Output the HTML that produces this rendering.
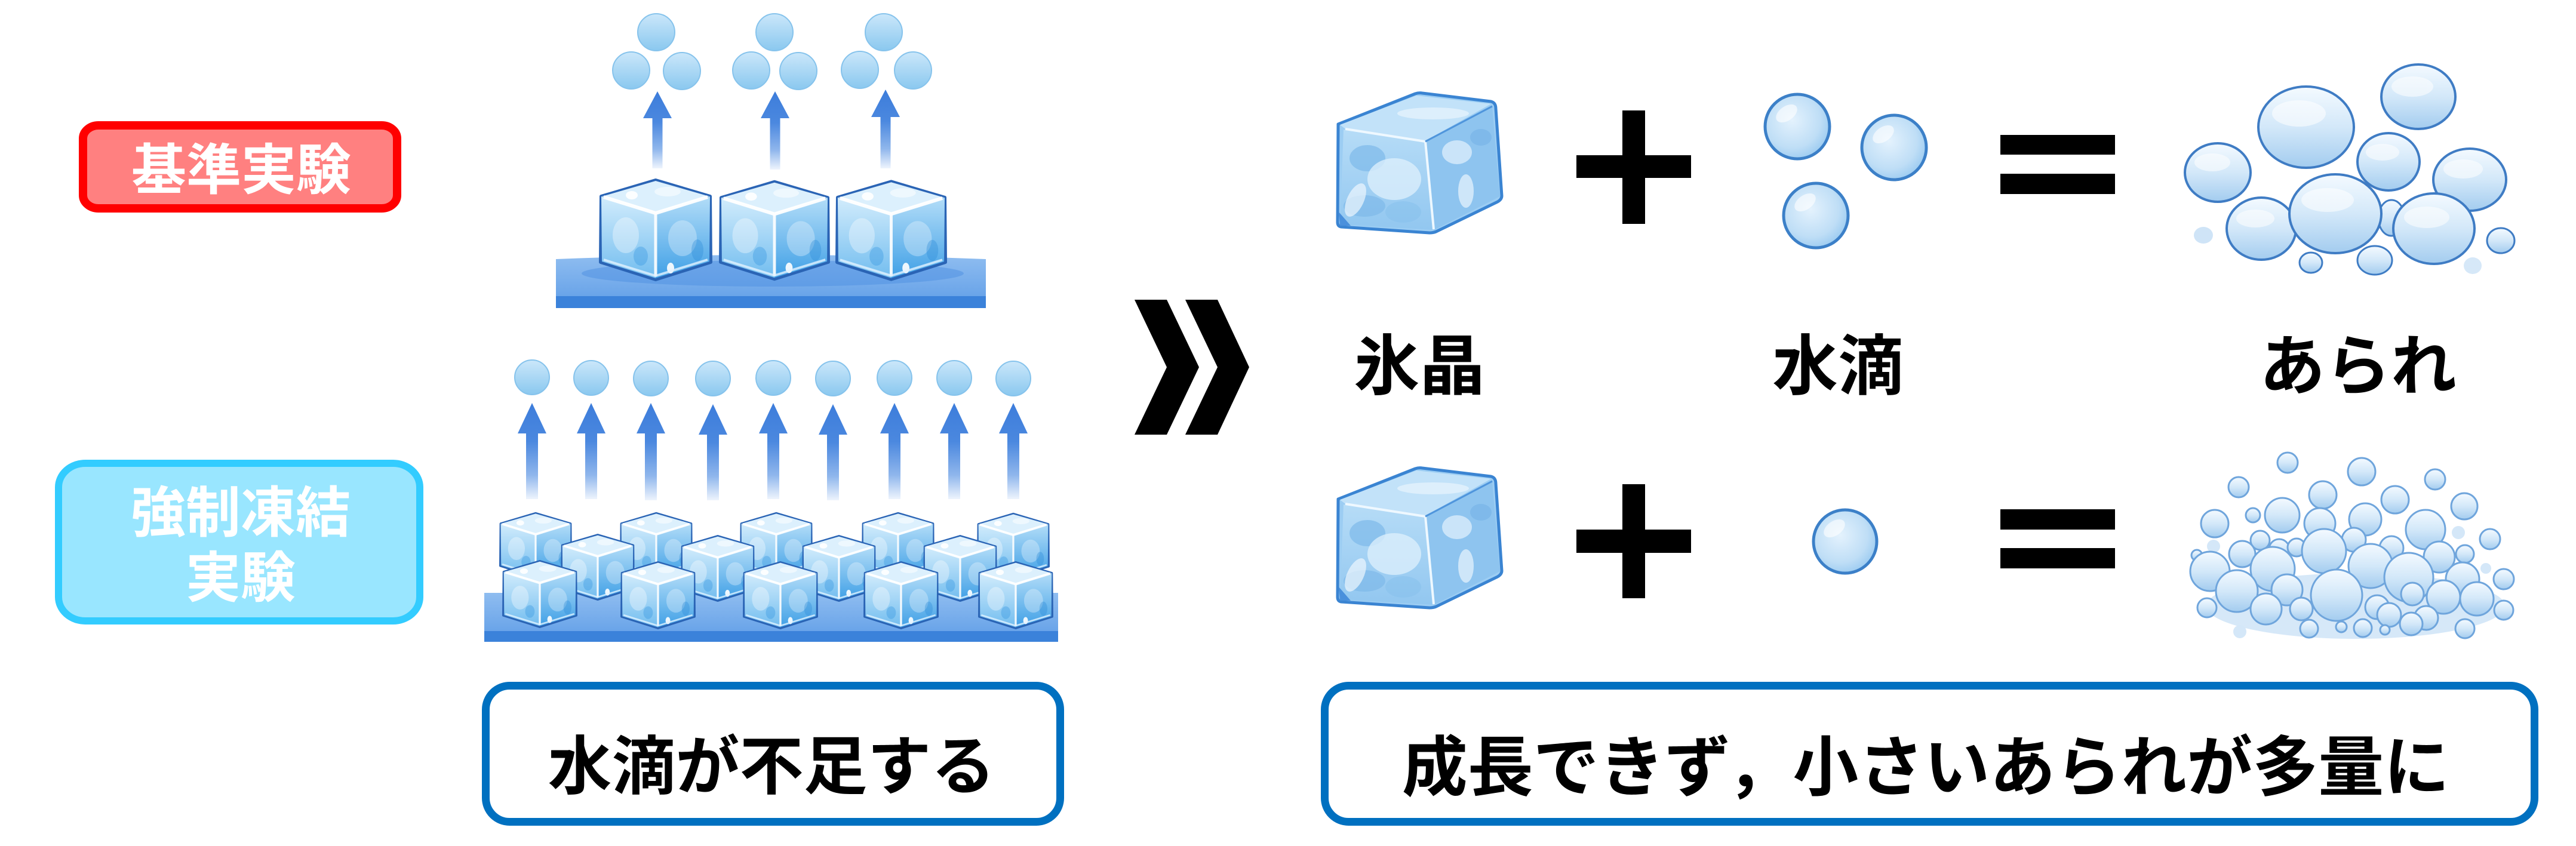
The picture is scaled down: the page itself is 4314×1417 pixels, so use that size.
<!DOCTYPE html>
<html><head><meta charset="utf-8">
<style>
html,body{margin:0;padding:0;background:#fff;}
body{width:4314px;height:1417px;overflow:hidden;}
svg{display:block;}
text{font-family:"Liberation Sans","Noto Sans CJK JP",sans-serif;font-weight:700;}
</style></head>
<body>
<svg width="4314" height="1417" viewBox="0 0 4314 1417" xmlns="http://www.w3.org/2000/svg">
<defs>
  <linearGradient id="arr" x1="0" y1="0" x2="0" y2="1">
    <stop offset="0" stop-color="#3d7ddb"/>
    <stop offset="0.4" stop-color="#4b88df"/>
    <stop offset="0.75" stop-color="#8fb6ec"/>
    <stop offset="1" stop-color="#eef4fd"/>
  </linearGradient>
  <linearGradient id="dg" x1="0" y1="0" x2="0" y2="1">
    <stop offset="0" stop-color="#cbe7fa"/>
    <stop offset="1" stop-color="#8ac8ef"/>
  </linearGradient>
  <linearGradient id="bgp" x1="0" y1="0" x2="0" y2="1">
    <stop offset="0" stop-color="#8fbdf0"/>
    <stop offset="1" stop-color="#5f9de7"/>
  </linearGradient>
  <linearGradient id="cubeL" x1="0" y1="0" x2="0" y2="1">
    <stop offset="0" stop-color="#d2ecfc"/>
    <stop offset="1" stop-color="#72bdef"/>
  </linearGradient>
  <linearGradient id="cubeR" x1="0" y1="0" x2="0" y2="1">
    <stop offset="0" stop-color="#b3ddf8"/>
    <stop offset="1" stop-color="#40a0e6"/>
  </linearGradient>
  <radialGradient id="rd" cx="0.42" cy="0.4" r="0.62">
    <stop offset="0" stop-color="#e4f2fd"/>
    <stop offset="0.7" stop-color="#bfdef6"/>
    <stop offset="1" stop-color="#9dccf1"/>
  </radialGradient>
  <linearGradient id="bb" x1="0" y1="0" x2="0" y2="1">
    <stop offset="0" stop-color="#f4faff"/>
    <stop offset="0.5" stop-color="#d3e8f9"/>
    <stop offset="1" stop-color="#a3ccef"/>
  </linearGradient>
  <linearGradient id="pf" x1="0" y1="0" x2="0" y2="1">
    <stop offset="0" stop-color="#b6dcf7"/>
    <stop offset="1" stop-color="#92c7f0"/>
  </linearGradient>

  <symbol id="hc" viewBox="0 0 190 172">
    <polygon points="95,3 186,30 187,140 95,169 3,140 4,30" fill="#6fb5ec" stroke="#2a64b5" stroke-width="6" stroke-linejoin="round"/>
    <polygon points="4,30 95,58 95,167 5,139" fill="url(#cubeL)"/>
    <polygon points="95,58 186,30 185,139 95,167" fill="url(#cubeR)"/>
    <polygon points="95,4 185,30 95,58 5,30" fill="#dcf0fd"/>
    <ellipse cx="55" cy="28" rx="10" ry="7" fill="#fff" opacity="0.9"/>
    <ellipse cx="115" cy="22" rx="22" ry="8" fill="#fff" opacity="0.5"/>
    <ellipse cx="45" cy="95" rx="22" ry="30" fill="#fff" opacity="0.35"/>
    <ellipse cx="70" cy="130" rx="12" ry="16" fill="#2f93e0" opacity="0.35"/>
    <ellipse cx="140" cy="100" rx="24" ry="30" fill="#fff" opacity="0.3"/>
    <ellipse cx="165" cy="120" rx="10" ry="18" fill="#2a8ad8" opacity="0.35"/>
    <ellipse cx="120" cy="150" rx="6" ry="9" fill="#fff" opacity="0.9"/>
    <polyline points="8,31 95,58 182,31" fill="none" stroke="#fff" stroke-width="6" stroke-linejoin="round" opacity="0.95"/>
    <line x1="95" y1="58" x2="95" y2="164" stroke="#fff" stroke-width="5" opacity="0.9"/>
    <polyline points="8,136 95,163 182,136" fill="none" stroke="#e2f3ff" stroke-width="4" opacity="0.8"/>
  </symbol>

  <g id="pcube">
    <path d="M2241,208 L2370,157 Q2376,155 2382,156 L2497,170 Q2505,172 2505,182 L2515,328 Q2515,334 2508,338 L2405,388 Q2400,390 2394,390 L2246,380 Q2240,379 2240,372 Z" fill="#9ccdf3" stroke="#3a84d2" stroke-width="5" stroke-linejoin="round"/>
    <polygon points="2244,209 2372,160 2497,174 2387,236 2253,216" fill="#c2e2f9"/>
    <ellipse cx="2400" cy="190" rx="60" ry="10" fill="#e3f2fd" opacity="0.8"/>
    <polygon points="2250,217 2386,238 2400,385 2244,376" fill="url(#pf)"/>
    <polygon points="2388,238 2499,179 2512,329 2402,385" fill="#8ec4ef"/>
    <ellipse cx="2290" cy="265" rx="30" ry="22" fill="#7db9ea" opacity="0.7"/>
    <ellipse cx="2335" cy="300" rx="45" ry="35" fill="#dff0fc" opacity="0.75"/>
    <ellipse cx="2285" cy="345" rx="35" ry="18" fill="#7ab6e8" opacity="0.6"/>
    <ellipse cx="2350" cy="355" rx="30" ry="18" fill="#88c1ec" opacity="0.6"/>
    <ellipse cx="2270" cy="335" rx="14" ry="30" fill="#eef7fe" opacity="0.7" transform="rotate(25 2270 335)"/>
    <ellipse cx="2440" cy="255" rx="25" ry="20" fill="#e4f2fd" opacity="0.7"/>
    <ellipse cx="2455" cy="320" rx="13" ry="28" fill="#eaf5fe" opacity="0.7"/>
    <ellipse cx="2480" cy="230" rx="18" ry="14" fill="#74b2e6" opacity="0.6"/>
    <polyline points="2253,216 2387,237 2401,384" fill="none" stroke="#eef8ff" stroke-width="4"/>
    <line x1="2387" y1="237" x2="2499" y2="178" stroke="#4f95dc" stroke-width="3"/>
    <path d="M2242,355 L2262,378 L2244,378 Z" fill="#4a90dc"/>
  </g>
</defs>

<!-- ===== Left labels ===== -->
<rect x="139" y="210" width="526" height="139" rx="26" ry="22" fill="#ff8080" stroke="#ff0000" stroke-width="14"/>
<text x="404" y="317" font-size="92" fill="#fff" text-anchor="middle">基準実験</text>

<rect x="98" y="776" width="605" height="264" rx="45" ry="40" fill="#99e6ff" stroke="#33ccff" stroke-width="12"/>
<text x="403" y="891" font-size="92" fill="#fff" text-anchor="middle">強制凍結</text>
<text x="403" y="1000" font-size="92" fill="#fff" text-anchor="middle">実験</text>

<!-- ===== Cluster 1 (top) ===== -->
<g fill="url(#dg)" stroke="#86c3ec" stroke-width="2">
  <circle cx="1099" cy="54" r="31"/><circle cx="1057" cy="118" r="31"/><circle cx="1142" cy="119" r="31"/>
  <circle cx="1297" cy="54" r="31"/><circle cx="1258" cy="118" r="31"/><circle cx="1337" cy="119" r="31"/>
  <circle cx="1480" cy="54" r="31"/><circle cx="1440" cy="117" r="31"/><circle cx="1529" cy="118" r="31"/>
</g>
<g fill="url(#arr)">
  <path d="M1101,153 L1125,198 L1109.5,198 L1109.5,282 L1092.5,282 L1092.5,198 L1077,198 Z"/>
  <path d="M1298,153 L1322,198 L1306.5,198 L1306.5,284 L1289.5,284 L1289.5,198 L1274,198 Z"/>
  <path d="M1483,150 L1507,196 L1491.5,196 L1491.5,282 L1474.5,282 L1474.5,196 L1459,196 Z"/>
</g>
<path d="M931,434 Q1291,420 1651,434 L1651,516 L931,516 Z" fill="url(#bgp)"/>
<rect x="931" y="496" width="720" height="20" fill="#3b82da"/>
<ellipse cx="1294" cy="458" rx="320" ry="22" fill="#4d8fe2" opacity="0.5"/>
<use href="#hc" x="1003" y="299" width="190" height="172"/>
<use href="#hc" x="1204" y="300" width="186" height="172"/>
<use href="#hc" x="1399" y="300" width="187" height="172"/>

<!-- ===== Cluster 2 (bottom) ===== -->
<g fill="url(#dg)" stroke="#86c3ec" stroke-width="2">
  <circle cx="891" cy="632" r="29"/><circle cx="990" cy="633" r="29"/><circle cx="1090" cy="634" r="29"/>
  <circle cx="1194" cy="634" r="29"/><circle cx="1295" cy="633" r="29"/><circle cx="1395" cy="634" r="29"/>
  <circle cx="1498" cy="633" r="29"/><circle cx="1598" cy="633" r="29"/><circle cx="1697" cy="634" r="29"/>
</g>
<g fill="url(#arr)">
  <path d="M891,675 L915,726 L901,726 L901,836 L881,836 L881,726 L867,726 Z"/>
  <path d="M990,675 L1014,726 L1000,726 L1000,836 L980,836 L980,726 L966,726 Z"/>
  <path d="M1090,675 L1114,726 L1100,726 L1100,838 L1080,838 L1080,726 L1066,726 Z"/>
  <path d="M1194,677 L1218,728 L1204,728 L1204,838 L1184,838 L1184,728 L1170,728 Z"/>
  <path d="M1295,675 L1319,726 L1305,726 L1305,836 L1285,836 L1285,726 L1271,726 Z"/>
  <path d="M1395,677 L1419,728 L1405,728 L1405,838 L1385,838 L1385,728 L1371,728 Z"/>
  <path d="M1498,675 L1522,726 L1508,726 L1508,836 L1488,836 L1488,726 L1474,726 Z"/>
  <path d="M1598,675 L1622,726 L1608,726 L1608,836 L1588,836 L1588,726 L1574,726 Z"/>
  <path d="M1697,675 L1721,726 L1707,726 L1707,836 L1687,836 L1687,726 L1673,726 Z"/>
</g>
<rect x="811" y="993" width="961" height="82" fill="url(#bgp)"/>
<rect x="811" y="1057" width="961" height="18" fill="#3b82da"/>
<!-- back row -->
<use href="#hc" x="836" y="857" width="122" height="112"/>
<use href="#hc" x="1038" y="857" width="122" height="112"/>
<use href="#hc" x="1239" y="857" width="122" height="112"/>
<use href="#hc" x="1443" y="857" width="122" height="112"/>
<use href="#hc" x="1636" y="858" width="122" height="112"/>
<!-- mid row -->
<use href="#hc" x="936" y="894" width="130" height="112"/>
<use href="#hc" x="1137" y="896" width="130" height="112"/>
<use href="#hc" x="1340" y="896" width="130" height="112"/>
<use href="#hc" x="1543" y="896" width="130" height="112"/>
<!-- front row -->
<use href="#hc" x="836" y="938" width="136" height="114"/>
<use href="#hc" x="1034" y="940" width="136" height="114"/>
<use href="#hc" x="1239" y="940" width="136" height="114"/>
<use href="#hc" x="1441" y="940" width="136" height="114"/>
<use href="#hc" x="1633" y="940" width="136" height="114"/>

<!-- bottom-left box -->
<rect x="813.5" y="1148.5" width="962" height="228" rx="40" ry="40" fill="#fff" stroke="#0070c0" stroke-width="13"/>
<text x="1292" y="1321" font-size="107" fill="#000" text-anchor="middle">水滴が不足する</text>

<!-- ===== Chevrons ===== -->
<polygon points="1900,502 1954,502 2008,615 1954,728 1900,728 1954,615" fill="#000"/>
<polygon points="1985,502 2039,502 2092,615 2039,728 1985,728 2039,615" fill="#000"/>

<!-- ===== Right side ===== -->
<use href="#pcube"/>
<use href="#pcube" transform="translate(0,628)"/>

<!-- plus signs -->
<rect x="2717" y="185" width="38" height="190" fill="#000"/>
<rect x="2640" y="260" width="192" height="38" fill="#000"/>
<rect x="2717" y="811" width="38" height="191" fill="#000"/>
<rect x="2640" y="887" width="192" height="39" fill="#000"/>

<!-- equals -->
<rect x="3350" y="226" width="192" height="33" fill="#000"/>
<rect x="3350" y="291" width="192" height="34" fill="#000"/>
<rect x="3350" y="853" width="192" height="34" fill="#000"/>
<rect x="3350" y="918" width="192" height="34" fill="#000"/>

<!-- drops right -->
<g>
  <circle cx="3010" cy="212" r="54" fill="url(#rd)" stroke="#3c80c8" stroke-width="5"/>
  <ellipse cx="2992" cy="190" rx="20" ry="12" fill="#fff" opacity="0.6" transform="rotate(-35 2992 190)"/>
  <circle cx="3172" cy="247" r="54" fill="url(#rd)" stroke="#3c80c8" stroke-width="5"/>
  <ellipse cx="3154" cy="225" rx="20" ry="12" fill="#fff" opacity="0.6" transform="rotate(-35 3154 225)"/>
  <circle cx="3041" cy="361" r="54" fill="url(#rd)" stroke="#3c80c8" stroke-width="5"/>
  <ellipse cx="3023" cy="339" rx="20" ry="12" fill="#fff" opacity="0.6" transform="rotate(-35 3023 339)"/>
  <circle cx="3090" cy="907" r="53" fill="url(#rd)" stroke="#3c80c8" stroke-width="5"/>
  <ellipse cx="3072" cy="885" rx="20" ry="12" fill="#fff" opacity="0.6" transform="rotate(-35 3072 885)"/>
</g>

<!-- hail cluster 1 -->
<g stroke="#3f7cc4" stroke-width="4" fill="url(#bb)">
  <ellipse cx="3690" cy="394" rx="16" ry="14" stroke="none" fill="#cfe4f7"/>
  <ellipse cx="4141" cy="445" rx="15" ry="14" stroke="none" fill="#d6e8f8"/>
  <ellipse cx="4050" cy="162" rx="62" ry="54"/>
  <ellipse cx="3862" cy="213" rx="80" ry="68"/>
  <ellipse cx="3714" cy="289" rx="55" ry="49"/>
  <ellipse cx="4000" cy="271" rx="52" ry="48"/>
  <ellipse cx="4136" cy="301" rx="61" ry="52"/>
  <ellipse cx="4005" cy="365" rx="22" ry="30" stroke-width="3"/>
  <ellipse cx="3787" cy="383" rx="58" ry="52"/>
  <ellipse cx="4076" cy="383" rx="68" ry="59"/>
  <ellipse cx="3911" cy="358" rx="77" ry="66"/>
  <ellipse cx="3870" cy="440" rx="19" ry="17" stroke-width="3"/>
  <ellipse cx="3977" cy="436" rx="29" ry="24" stroke-width="3"/>
  <ellipse cx="4188" cy="403" rx="23" ry="21" stroke-width="3"/>
</g>
<g fill="#fff" opacity="0.55">
  <ellipse cx="3850" cy="190" rx="45" ry="22"/>
  <ellipse cx="4040" cy="145" rx="35" ry="17"/>
  <ellipse cx="3705" cy="272" rx="30" ry="15"/>
  <ellipse cx="3990" cy="255" rx="28" ry="14"/>
  <ellipse cx="4125" cy="283" rx="33" ry="16"/>
  <ellipse cx="3777" cy="366" rx="32" ry="15"/>
  <ellipse cx="3898" cy="335" rx="44" ry="20"/>
  <ellipse cx="4064" cy="364" rx="38" ry="18"/>
</g>

<!-- hail cluster 2 -->
<ellipse cx="3945" cy="1015" rx="250" ry="55" fill="#c4def5" opacity="0.7"/>
<g stroke="#6fa5dc" stroke-width="3" fill="url(#bb)">
  <circle cx="3831" cy="775" r="17"/><circle cx="3955" cy="790" r="23"/><circle cx="4078" cy="803" r="17"/>
  <circle cx="3749" cy="816" r="17"/><circle cx="3890" cy="829" r="23"/><circle cx="4011" cy="837" r="23"/>
  <circle cx="4127" cy="848" r="22"/><circle cx="3773" cy="863" r="12"/><circle cx="3822" cy="863" r="29"/>
  <circle cx="3709" cy="877" r="23"/><circle cx="3961" cy="870" r="27"/><circle cx="3885" cy="877" r="26"/>
  <circle cx="4062" cy="887" r="33"/><circle cx="4170" cy="903" r="17"/>
  <circle cx="4117" cy="892" r="11" stroke="none" fill="#d4e7f8"/>
  <circle cx="3785" cy="905" r="16"/><circle cx="3942" cy="904" r="20"/>
  <circle cx="3707" cy="915" r="11" stroke="none" fill="#d4e7f8"/><circle cx="3679" cy="930" r="9"/>
  <circle cx="4005" cy="918" r="20"/><circle cx="3755" cy="928" r="22"/><circle cx="3817" cy="920" r="17"/>
  <circle cx="3846" cy="917" r="15"/><circle cx="4085" cy="933" r="26"/><circle cx="4128" cy="928" r="15"/>
  <circle cx="3892" cy="923" r="37"/>
  <circle cx="4163" cy="952" r="9" stroke="none" fill="#d4e7f8"/>
  <circle cx="3701" cy="957" r="33"/><circle cx="3806" cy="953" r="37"/><circle cx="3970" cy="948" r="37"/>
  <circle cx="4034" cy="967" r="41"/><circle cx="4124" cy="970" r="28"/><circle cx="4193" cy="970" r="17"/>
  <circle cx="3746" cy="990" r="35"/><circle cx="3830" cy="988" r="26"/><circle cx="3913" cy="997" r="43"/>
  <circle cx="4040" cy="995" r="19"/><circle cx="4092" cy="1000" r="28"/><circle cx="4148" cy="1003" r="28"/>
  <circle cx="3696" cy="1018" r="16"/><circle cx="3795" cy="1020" r="26"/><circle cx="3854" cy="1020" r="19"/>
  <circle cx="3981" cy="1017" r="20"/><circle cx="4001" cy="1030" r="20"/><circle cx="4063" cy="1035" r="20"/>
  <circle cx="4038" cy="1045" r="19"/><circle cx="4193" cy="1022" r="16"/>
  <circle cx="3867" cy="1053" r="15"/><circle cx="3957" cy="1052" r="15"/><circle cx="4128" cy="1053" r="16"/>
  <circle cx="3751" cy="1058" r="11" stroke="none" fill="#d4e7f8"/>
  <circle cx="3921" cy="1050" r="9"/><circle cx="3994" cy="1055" r="8"/>
</g>

<!-- labels -->
<text x="2377" y="652" font-size="110" fill="#000" text-anchor="middle">氷晶</text>
<text x="3078" y="652" font-size="110" fill="#000" text-anchor="middle">水滴</text>
<text x="3949" y="652" font-size="110" fill="#000" text-anchor="middle">あられ</text>

<!-- bottom-right box -->
<rect x="2218.5" y="1148.5" width="2026" height="228" rx="40" ry="40" fill="#fff" stroke="#0070c0" stroke-width="13"/>
<text x="3225" y="1324" font-size="110" fill="#000" text-anchor="middle">成長できず，小さいあられが多量に</text>
</svg>
</body></html>
